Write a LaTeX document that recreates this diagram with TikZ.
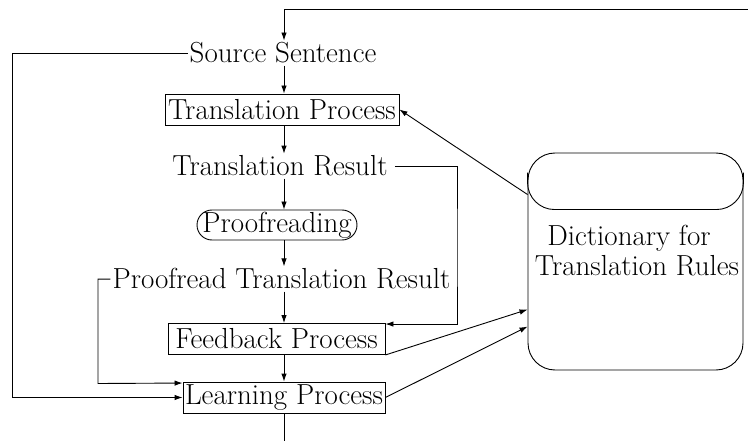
\documentclass[tikz,border=0pt]{standalone}
\usepackage{fontspec}
\usetikzlibrary{arrows.meta,calc}
\begin{document}
\begin{tikzpicture}[x=1pt,y=-1pt,
  every node/.style={font=\fontsize{29}{35}\selectfont},
  lbl/.style={inner sep=2pt},
  procbox/.style={draw,line width=0.9pt,inner sep=0pt,minimum height=31pt},
  pill/.style={draw,line width=0.9pt,rounded corners=15pt,inner sep=0pt,minimum height=30pt,minimum width=160pt},
  arr/.style={line width=0.9pt,-{Latex[length=8pt,width=5.5pt]}},
  ln/.style={line width=0.9pt}]
\useasboundingbox (0,0) rectangle (748,441);

% process column
\node[lbl,anchor=base] (src) at (283,63) {Source Sentence};
\node[procbox,minimum width=234pt] (tp) at (282,109.5) {Translation Process};
\node[lbl,anchor=base] (tr) at (280,176) {Translation Result};
\node[pill] (pr) at (277,225) {Proofreading};
\node[lbl,anchor=base] (ptr) at (281.5,289) {Proofread Translation Result};
\node[procbox,minimum width=217pt] (fb) at (276.5,339) {Feedback Process};
\node[procbox,minimum width=202pt] (lp) at (284,397.5) {Learning Process};

% dictionary cylinder
\node[draw,line width=0.9pt,rounded corners=27pt,minimum width=215pt,minimum height=217pt] (dict) at (635.5,261.5) {};
\node[inner sep=0pt,anchor=base] (dtop) at (629,246) {Dictionary for};
\node[inner sep=0pt,anchor=base] (dbot) at (637,276) {Translation Rules};
\draw[ln,rounded corners=27pt] ([yshift=-20pt]dict.north west) |- ([yshift=-57pt]dict.north) -| ([yshift=-20pt]dict.north east);

% helper coordinates
\coordinate (sp) at (284,0);
\coordinate (topR) at (748,9);
\coordinate (L) at (12,397.5);
\coordinate (R) at (457,250);
\coordinate (PL) at (98,383.5);
\coordinate (B) at (284,441);

% spine arrows
\draw[arr] (topR) -| (src.north -| sp);
\draw[arr] (src.south -| sp) -- (tp.north -| sp);
\draw[arr] (tp.south -| sp) -- (tr.north -| sp);
\draw[arr] (tr.south -| sp) -- (pr.north -| sp);
\draw[arr] (pr.south -| sp) -- (ptr.north -| sp);
\draw[arr] (ptr.south -| sp) -- (fb.north -| sp);
\draw[arr] (fb.south -| sp) -- (lp.north -| sp);
\draw[ln] (lp.south -| sp) -- (B);

% loops
\draw[arr] (src.west) -| (L) -- (lp.west);
\draw[arr] ([xshift=5pt]tr.east) -| (R) |- ([yshift=-1pt]fb.north east);
\draw[arr] (ptr.west) -| (PL) -- ([yshift=-1.5pt]lp.north west);

% dictionary links
\draw[arr] ([yshift=-42pt]dict.north west) -- (tp.east);
\draw[arr] (fb.south east) -- ([yshift=-157pt]dict.north west);
\draw[arr] (lp.east) -- ([yshift=-174pt]dict.north west);
\end{tikzpicture}
\end{document}
